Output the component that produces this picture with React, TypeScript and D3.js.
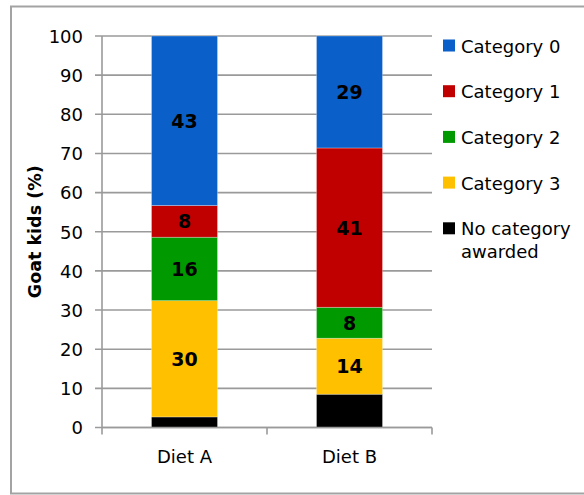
import React from "react";
import * as d3 from "d3";

// Stacked composition of goat kids per diet, bottom-up order
const diets = ["Diet A", "Diet B"];
const seriesNames = ["No category awarded", "Category 3", "Category 2", "Category 1", "Category 0"];
const seriesColors = ["#000000", "#ffc000", "#009a00", "#c00000", "#0b5fc8"];
const dietAValues = [2.7, 29.7, 16.2, 8.1, 43.3];
const dietBValues = [8.5, 14.3, 7.9, 40.7, 28.6];
const yTicks = [0, 10, 20, 30, 40, 50, 60, 70, 80, 90, 100];
const legendOrder = ["Category 0", "Category 1", "Category 2", "Category 3", "No category awarded"];

const W = 584;
const H = 495;
const plot = { left: 102, right: 432, top: 36, bottom: 427.5 };
const FONT = "DejaVu Sans, Verdana, sans-serif";
const GRID = "#9a9a9a";

export default function App() {
  const y = d3.scaleLinear().domain([0, 100]).range([plot.bottom, plot.top]);
  const x = d3.scaleBand().domain(diets).range([plot.left, plot.right]).paddingInner(0.6).paddingOuter(0.3);

  const table = diets.map((diet, i) => {
    const vals = i === 0 ? dietAValues : dietBValues;
    const row: Record<string, any> = { diet };
    seriesNames.forEach((s, j) => (row[s] = vals[j]));
    return row;
  });
  const stacked = d3.stack().keys(seriesNames)(table as any);

  const legendLabels: Record<string, string[]> = {
    "No category awarded": ["No category", "awarded"],
  };

  return (
    <svg width={W} height={H} style={{ position: "absolute", left: 0, top: 0, background: "#fff" }}>
      <rect x={11} y={6.5} width={W + 10} height={487} fill="#fff" stroke="#a3a3a3" strokeWidth={2} />

      {/* gridlines and y ticks */}
      {yTicks.map((t) => (
        <g key={t}>
          <line x1={95} x2={plot.right} y1={y(t)} y2={y(t)} stroke={GRID} strokeWidth={1.6} />
          <text x={83} y={y(t) + 6.8} textAnchor="end" fontFamily={FONT} fontSize={18} fill="#000">
            {t}
          </text>
        </g>
      ))}
      <line x1={plot.left} x2={plot.left} y1={plot.top} y2={plot.bottom} stroke={GRID} strokeWidth={1.6} />
      {[plot.left, (plot.left + plot.right) / 2, plot.right].map((tx) => (
        <line key={tx} x1={tx} x2={tx} y1={plot.bottom} y2={plot.bottom + 7} stroke={GRID} strokeWidth={1.6} />
      ))}

      {/* bars */}
      {stacked.map((layer, j) => (
        <g key={layer.key} fill={seriesColors[j]}>
          {layer.map((seg, i) => {
            const d = (seg as any).data.diet;
            const y0 = y(seg[0]);
            const y1 = y(seg[1]);
            const v = seg[1] - seg[0];
            const cx = (x(d) as number) + x.bandwidth() / 2;
            return (
              <g key={d}>
                <rect x={x(d)} y={y1} width={x.bandwidth()} height={y0 - y1} stroke="#fff" strokeOpacity={0.35} strokeWidth={0.8} />
                {j > 0 && (
                  <text
                    x={cx}
                    y={(y0 + y1) / 2 + 7}
                    textAnchor="middle"
                    fontFamily={FONT}
                    fontWeight="bold"
                    fontSize={19}
                    fill="#000"
                  >
                    {Math.round(v)}
                  </text>
                )}
              </g>
            );
          })}
        </g>
      ))}

      {/* x axis line over bars */}
      <line x1={plot.left} x2={plot.right} y1={plot.bottom} y2={plot.bottom} stroke={GRID} strokeWidth={1.6} />

      {/* category labels */}
      {diets.map((d) => (
        <text
          key={d}
          x={(x(d) as number) + x.bandwidth() / 2}
          y={463}
          textAnchor="middle"
          fontFamily={FONT}
          fontSize={18}
          fill="#000"
        >
          {d}
        </text>
      ))}

      {/* y title */}
      <text
        transform={`translate(41, ${(plot.top + plot.bottom) / 2}) rotate(-90)`}
        textAnchor="middle"
        fontFamily={FONT}
        fontWeight="bold"
        fontSize={17.5}
        fill="#000"
      >
        Goat kids (%)
      </text>

      {/* legend */}
      {legendOrder.map((name, k) => {
        const j = seriesNames.indexOf(name);
        const top = 39.5 + k * 45.7;
        const lines = legendLabels[name] || [name];
        return (
          <g key={name}>
            <rect x={443} y={top} width={12} height={12} fill={seriesColors[j]} />
            {lines.map((ln, li) => (
              <text key={li} x={461} y={top + 13 + li * 23} fontFamily={FONT} fontSize={18} fill="#000">
                {ln}
              </text>
            ))}
          </g>
        );
      })}
    </svg>
  );
}
